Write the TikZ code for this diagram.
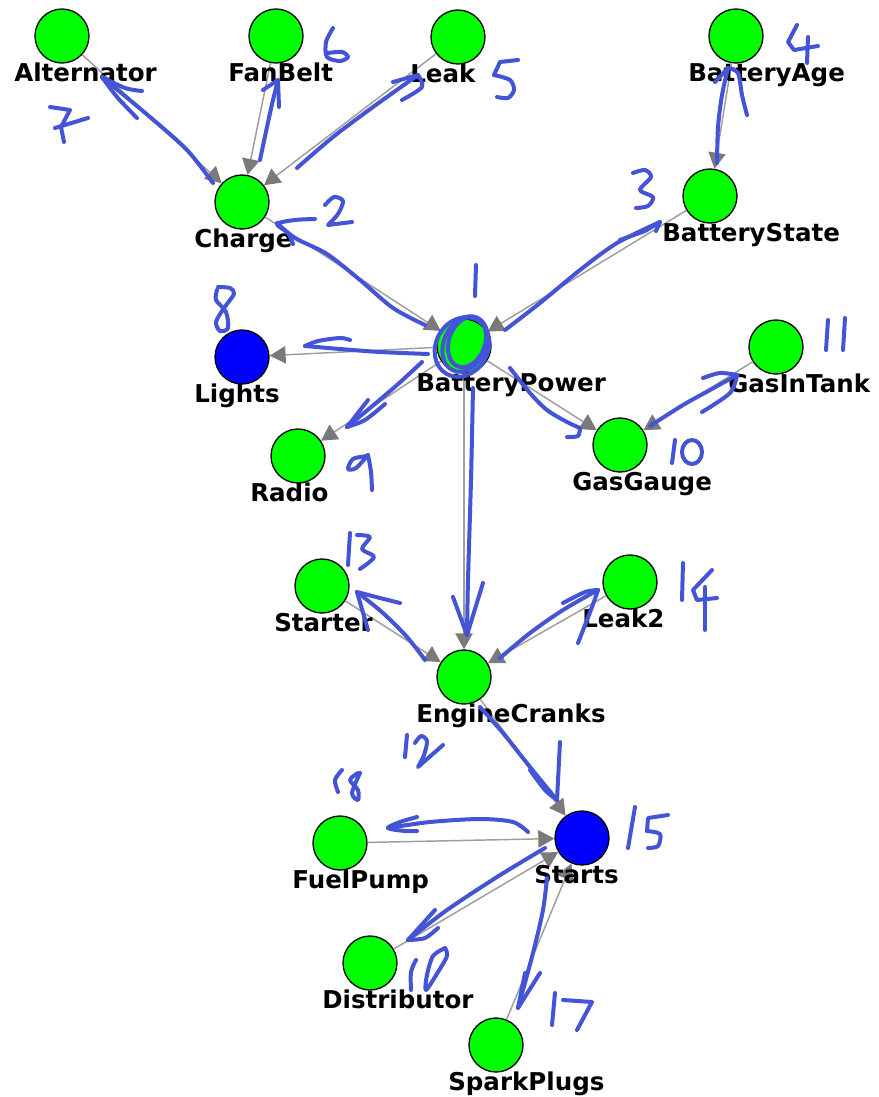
\documentclass[tikz,border=0pt]{standalone}
\usepackage{fontspec}
\setsansfont{DejaVu Sans}
\usetikzlibrary{arrows.meta}
\definecolor{bngreen}{RGB}{0,255,0}
\definecolor{bnblue}{RGB}{0,0,255}
\definecolor{ink}{RGB}{68,84,214}

\begin{document}
\begin{tikzpicture}[
      x=0.75pt, y=-0.75pt,
      bn/.style={circle,draw=black,line width=1pt,fill=bngreen,minimum size=40.5pt,inner sep=0pt},
      obs/.style={bn,fill=bnblue},
      lbl/.style={anchor=base west,xshift=-36pt,yshift=-33.75pt,inner sep=0pt,
                  font=\sffamily\bfseries\fontsize{18.4}{20}\selectfont},
      edge/.style={draw=black!38,line width=1.1pt,-{Triangle[length=12pt,width=13pt,color=black!52]}},
      pen/.style={draw=ink,line width=3pt,line cap=round,line join=round}
    ]
    \path[fill=white] (0,0) rectangle (879,1097);
    % Draw the variables.
    \node[bn] (alt) at (62,36) {};
    \node[bn] (fan) at (276,36) {};
    \node[bn] (leak) at (458,37) {};
    \node[bn] (age) at (736,36) {};
    \node[bn] (chg) at (242,202) {};
    \node[bn] (state) at (710,196) {};
    \node[bn] (power) at (464,346) {};
    \node[obs] (lights) at (242,357) {};
    \node[bn] (radio) at (298,456) {};
    \node[bn] (gauge) at (620,445) {};
    \node[bn] (tank) at (776,347) {};
    \node[bn] (starter) at (322,586) {};
    \node[bn] (leaktwo) at (630,582) {};
    \node[bn] (crank) at (464,677) {};
    \node[bn] (pump) at (340,843) {};
    \node[obs] (starts) at (582,838) {};
    \node[bn] (distr) at (370,963) {};
    \node[bn] (plugs) at (496,1045) {};
    % Draw the dependencies.
    \draw[edge] (alt) -- (chg);
    \draw[edge] (fan) -- (chg);
    \draw[edge] (leak) -- (chg);
    \draw[edge] (age) -- (state);
    \draw[edge] (chg) -- (power);
    \draw[edge] (state) -- (power);
    \draw[edge] (power) -- (lights);
    \draw[edge] (power) -- (radio);
    \draw[edge] (power) -- (gauge);
    \draw[edge] (tank) -- (gauge);
    \draw[edge] (power) -- (crank);
    \draw[edge] (starter) -- (crank);
    \draw[edge] (leaktwo) -- (crank);
    \draw[edge] (crank) -- (starts);
    \draw[edge] (pump) -- (starts);
    \draw[edge] (distr) -- (starts);
    \draw[edge] (plugs) -- (starts);
    % Draw the names.
    \node[lbl] (altL) at (alt) {Alternator};
    \node[lbl] (fanL) at (fan) {FanBelt};
    \node[lbl] (leakL) at (leak) {Leak};
    \node[lbl] (ageL) at (age) {BatteryAge};
    \node[lbl] (chgL) at (chg) {Charge};
    \node[lbl] (stateL) at (state) {BatteryState};
    \node[lbl] (powerL) at (power) {BatteryPower};
    \node[lbl] (lightsL) at (lights) {Lights};
    \node[lbl] (radioL) at (radio) {Radio};
    \node[lbl] (gaugeL) at (gauge) {GasGauge};
    \node[lbl] (tankL) at (tank) {GasInTank};
    \node[lbl] (starterL) at (starter) {Starter};
    \node[lbl] (leaktwoL) at (leaktwo) {Leak2};
    \node[lbl] (crankL) at (crank) {EngineCranks};
    \node[lbl] (pumpL) at (pump) {FuelPump};
    \node[lbl] (startsL) at (starts) {Starts};
    \node[lbl] (distrL) at (distr) {Distributor};
    \node[lbl] (plugsL) at (plugs) {SparkPlugs};
    % Draw the pen marks: circled start node.
    \draw[pen] (465,344) ellipse[x radius=21,y radius=29,rotate=-25];
    \draw[pen] (462,347) ellipse[x radius=26,y radius=31,rotate=-30];
    \draw[pen] (467,342) ellipse[x radius=18,y radius=26,rotate=-20];
    \draw[pen] (476,265) -- (475,296);
    % Draw the pen marks: upper half.
    \draw[pen] plot[smooth] coordinates {(425,325) (393,308) (360,280) (327,254) (295,238) (277,223)};
    \draw[pen] plot[smooth] coordinates {(315,219) (295,220) (277,224) (288,233) (293,244)};
    \draw[pen] plot[smooth] coordinates {(325,205) (334,197) (343,201) (338,214) (328,225)} -- (352,222);
    \draw[pen] plot[smooth] coordinates {(505,330) (540,303) (580,270) (617,243) (660,222)};
    \draw[pen] (620,240) -- (645,231) -- (660,222) -- (656,231);
    \draw[pen] plot[smooth] coordinates {(633,173) (645,170) (651,177) (640,190) (653,197) (648,206) (636,208)};
    \draw[pen] plot[smooth] coordinates {(717,163) (718,127) (722,95) (728,68)};
    \draw[pen] (715,82) -- (728,68);
    \draw[pen] plot[smooth] coordinates {(728,68) (738,73) (742,95) (747,115)};
    \draw[pen] (797,25) -- (788,42) -- (794,50) -- (818,46);
    \draw[pen] (808,37) -- (807,63);
    \draw[pen] plot[smooth] coordinates {(297,168) (333,137) (373,107) (418,75)};
    \draw[pen] (393,82) -- (418,75);
    \draw[pen] plot[smooth] coordinates {(418,75) (422,87) (402,100)};
    \draw[pen] (518,60) -- (500,62) -- (494,75);
    \draw[pen] plot[smooth] coordinates {(494,75) (510,80) (514,90) (508,98) (497,97)};
    \draw[pen] plot[smooth] coordinates {(260,160) (267,127) (273,100) (278,80)};
    \draw[pen] (263,90) -- (278,80) -- (279,107);
    \draw[pen] plot[smooth] coordinates {(333,28) (326,42) (327,57) (340,61) (348,57) (342,52) (328,53)};
    \draw[pen] plot[smooth] coordinates {(213,183) (187,150) (150,117) (102,77)};
    \draw[pen] plot[smooth] coordinates {(142,91) (125,88) (102,77)};
    \draw[pen] plot[smooth] coordinates {(102,77) (117,97) (137,118)};
    \draw[pen] (50,107) -- (70,110) -- (61,127) -- (64,142);
    \draw[pen] (55,128) -- (88,118);
    % Draw the pen marks: middle.
    \draw[pen] plot[smooth] coordinates {(428,354) (380,352) (340,349) (305,346)};
    \draw[pen] plot[smooth] coordinates {(305,346) (318,341) (340,338) (350,340)};
    \draw[pen] plot[smooth] coordinates {(218,287) (230,288) (234,294) (224,308) (216,322) (220,331) (228,328) (226,312) (216,300) (217,290)};
    \draw[pen] plot[smooth] coordinates {(422,362) (397,385) (370,408) (347,427)};
    \draw[pen] (347,427) -- (368,400);
    \draw[pen] plot[smooth] coordinates {(347,427) (365,420) (385,404)};
    \draw[pen] plot[smooth] coordinates {(367,456) (353,459) (348,469) (356,468) (368,455)};
    \draw[pen] plot[smooth] coordinates {(368,455) (371,472) (372,490)};
    \draw[pen] plot[smooth] coordinates {(510,368) (530,393) (547,410) (567,422) (580,428)};
    \draw[pen] plot[smooth] coordinates {(580,428) (578,436) (567,437)};
    \draw[pen] (675,440) -- (672,463);
    \draw[pen] (692,452) ellipse[x radius=10,y radius=12];
    \draw[pen] (828,320) -- (826,350);
    \draw[pen] (845,318) -- (843,350);
    \draw[pen] plot[smooth] coordinates {(650,426) (683,405) (710,390) (737,375)};
    \draw[pen] plot[smooth] coordinates {(703,378) (720,373) (737,375)};
    \draw[pen] plot[smooth] coordinates {(737,375) (730,393) (702,412)};
    % Draw the pen marks: lower half.
    \draw[pen] plot[smooth] coordinates {(473,388) (471,480) (468,580) (467,635)};
    \draw[pen] (453,597) -- (467,635) -- (483,583);
    \draw[pen] (407,735) -- (405,757);
    \draw[pen] plot[smooth] coordinates {(415,743) (421,736) (427,741) (424,755) (418,767)} -- (443,745);
    \draw[pen] plot[smooth] coordinates {(425,660) (407,637) (383,613) (357,592)};
    \draw[pen] plot[smooth] coordinates {(357,592) (380,598) (400,603)};
    \draw[pen] (357,592) -- (368,630);
    \draw[pen] (350,533) -- (348,565);
    \draw[pen] plot[smooth] coordinates {(357,535) (370,537) (362,549) (374,557) (360,569)};
    \draw[pen] plot[smooth] coordinates {(500,658) (530,633) (563,610) (598,590)};
    \draw[pen] plot[smooth] coordinates {(563,603) (585,592) (598,590)};
    \draw[pen] plot[smooth] coordinates {(598,590) (592,607) (578,643)};
    \draw[pen] (683,563) -- (682,600);
    \draw[pen] (712,570) -- (693,590) -- (697,600) -- (717,598);
    \draw[pen] (705,587) -- (705,630);
    \draw[pen] plot[smooth] coordinates {(480,707) (503,733) (530,767) (557,800)};
    \draw[pen] (560,742) -- (557,800);
    \draw[pen] plot[smooth] coordinates {(530,770) (545,790) (557,800)};
    \draw[pen] (635,807) -- (628,848);
    \draw[pen] (668,815) -- (648,818) -- (647,831);
    \draw[pen] plot[smooth] coordinates {(647,831) (660,834) (658,846) (648,848)};
    \draw[pen] plot[smooth] coordinates {(528,832) (513,822) (480,819) (430,822) (388,828)};
    \draw[pen] plot[smooth] coordinates {(417,817) (400,822) (388,828) (405,831) (417,831)};
    \draw[pen] plot[smooth] coordinates {(342,770) (335,780) (338,792)};
    \draw[pen] plot[smooth] coordinates {(358,773) (350,780) (358,790) (358,800) (352,793) (360,773)};
    \draw[pen] plot[smooth] coordinates {(545,848) (497,877) (447,910) (408,940)};
    \draw[pen] (408,940) -- (435,910);
    \draw[pen] plot[smooth] coordinates {(408,940) (425,938) (438,928)};
    \draw[pen] plot[smooth] coordinates {(416,960) (411,972) (411,990)};
    \draw[pen] plot[smooth] coordinates {(445,948) (433,956) (427,975) (426,990) (438,972) (447,956) (445,948)};
    \draw[pen] plot[smooth] coordinates {(547,878) (543,910) (533,953) (518,1008)};
    \draw[pen] (525,973) -- (518,1008) -- (540,973);
    \draw[pen] (555,993) -- (552,1025);
    \draw[pen] (563,1000) -- (592,1002) -- (577,1030);
    \end{tikzpicture}
\end{document}
